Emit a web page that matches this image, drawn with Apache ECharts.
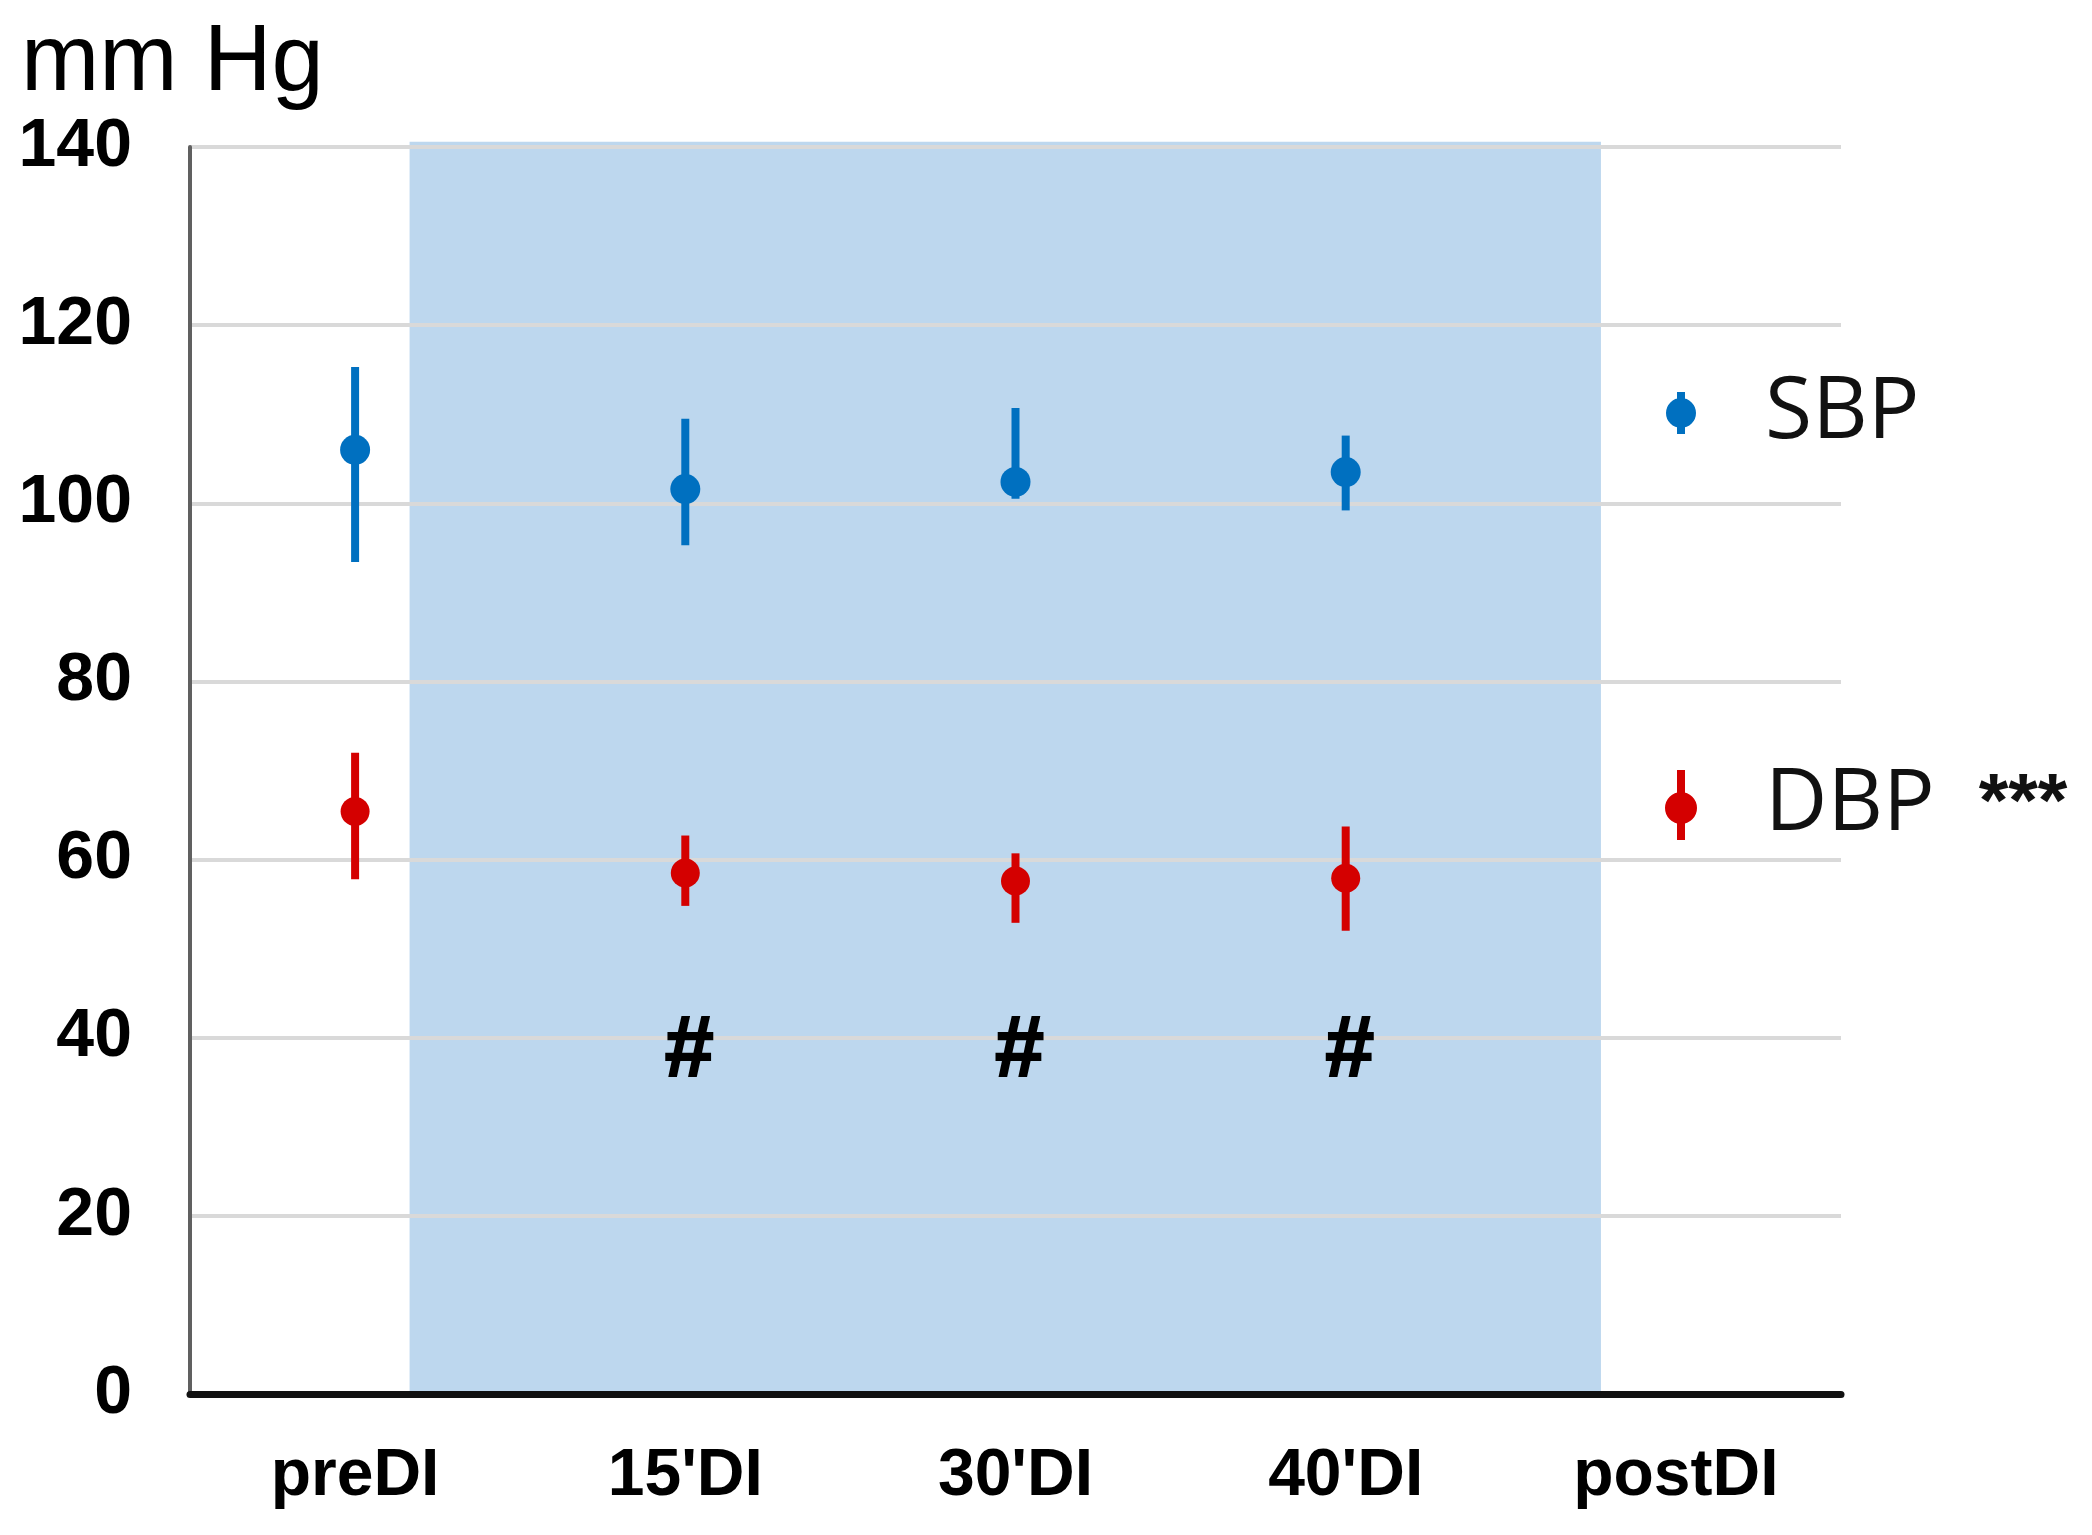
<!DOCTYPE html>
<html>
<head>
<meta charset="utf-8">
<script src="https://cdn.jsdelivr.net/npm/echarts@6/dist/echarts.min.js"></script>
<style>
html,body{margin:0;padding:0;background:#fff;}
#chart{width:2092px;height:1535px;}
</style>
</head>
<body>
<div id="chart"></div>
<script>
const categories = ["preDI", "15'DI", "30'DI", "40'DI", "postDI"];
const sbpMean = [106.0, 101.6, 102.4, 103.5];
const sbpLow  = [93.4, 95.3, 100.5, 99.2];
const sbpHigh = [115.3, 109.5, 110.7, 107.6];
const dbpMean = [65.4, 58.5, 57.6, 57.9];
const dbpLow  = [57.8, 54.8, 52.9, 52.0];
const dbpHigh = [72.0, 62.7, 60.7, 63.7];
const hashCategories = ["15'DI", "30'DI", "40'DI"];
const hashValue = 38.4;
const yMin = 0, yMax = 140, yStep = 20;
const interventionSpan = [0.165, 3.773]; // in category-index units
const interventionTop = 140.6;

const BLUE = '#0070C0';
const RED = '#D40000';

function errData(lo, hi) { return lo.map((v, i) => [i, v, hi[i]]); }
function meanData(m) { return m.map((v, i) => [i, v]); }

function errRender(color) {
  return function (params, api) {
    const a = api.coord([api.value(0), api.value(1)]);
    const b = api.coord([api.value(0), api.value(2)]);
    return { type: 'line', shape: { x1: a[0], y1: a[1], x2: b[0], y2: b[1] },
      style: { stroke: color, lineWidth: 8 } };
  };
}

const iconSBP = 'path://M13,0 L21,0 L21,42 L13,42 Z M2,21 A15,15 0 1,1 32,21 A15,15 0 1,1 2,21 Z';
const iconDBP = 'path://M13,0 L21,0 L21,70 L13,70 Z M1,38 A16,16 0 1,1 33,38 A16,16 0 1,1 1,38 Z';

const chart = echarts.init(document.getElementById('chart'));
chart.setOption({
  animation: false,
  backgroundColor: '#fff',
  title: {
    text: 'mm Hg', left: 16, top: 12,
    textStyle: { fontFamily: 'Liberation Sans', fontSize: 94, fontWeight: 'normal', color: '#000' }
  },
  legend: [
    {
      data: [{ name: 'SBP', icon: iconSBP }],
      left: 1666, top: 370, padding: 0, itemWidth: 34, itemHeight: 42,
      textStyle: { fontFamily: 'Open Sans', fontSize: 86, color: '#111', padding: [0, 0, 0, 62] }
    },
    {
      data: [{ name: 'DBP', icon: iconDBP }],
      left: 1665, top: 762, padding: 0, itemWidth: 34, itemHeight: 70,
      formatter: function (n) { return '{a|' + n + '}{b|***}'; },
      textStyle: {
        fontFamily: 'Open Sans', fontSize: 86, color: '#111', padding: [0, 0, 0, 62],
        rich: {
          a: { fontFamily: 'Open Sans', fontSize: 86, color: '#111' },
          b: { fontFamily: 'Liberation Sans', fontSize: 76, fontWeight: 'bold', color: '#111', padding: [0, 0, 0, 44] }
        }
      }
    }
  ],
  grid: { left: 190, right: 251, top: 147, bottom: 141, containLabel: false },
  xAxis: [
    {
      type: 'category', data: categories, boundaryGap: true,
      axisLine: { lineStyle: { color: '#111', width: 7 } },
      axisTick: { show: false },
      axisLabel: { fontFamily: 'Liberation Sans', fontSize: 66, fontWeight: 'bold', color: '#000', margin: 50 },
      splitLine: { show: false }
    },
    { type: 'value', min: -0.5, max: 4.5, show: false }
  ],
  yAxis: {
    type: 'value', min: yMin, max: yMax, interval: yStep,
    axisLine: { show: true, onZero: false, lineStyle: { color: '#606060', width: 4 } },
    axisTick: { show: false },
    axisLabel: { fontFamily: 'Liberation Sans', fontSize: 68, fontWeight: 'bold', color: '#000', margin: 58 },
    splitLine: { show: true, lineStyle: { color: '#D9D9D9', width: 4 } }
  },
  series: [
    {
      type: 'custom', name: 'intervention', xAxisIndex: 1, z: -1, silent: true, clip: false,
      data: [[interventionSpan[0], interventionSpan[1], interventionTop]],
      renderItem: function (params, api) {
        const p0 = api.coord([api.value(0), api.value(2)]);
        const p1 = api.coord([api.value(1), yMin]);
        return { type: 'rect', shape: { x: p0[0], y: p0[1], width: p1[0] - p0[0], height: p1[1] - p0[1] },
          style: { fill: '#BDD7EE' } };
      }
    },
    {
      type: 'scatter', name: 'SBP', data: meanData(sbpMean), symbol: 'circle', symbolSize: 30, z: 4,
      itemStyle: { color: BLUE, opacity: 1 }
    },
    {
      type: 'scatter', name: 'DBP', data: meanData(dbpMean), symbol: 'circle', symbolSize: 29, z: 4,
      itemStyle: { color: RED, opacity: 1 }
    },
    {
      type: 'custom', name: 'SBP', data: errData(sbpLow, sbpHigh), z: 3, silent: true,
      encode: { x: 0, y: [1, 2] }, renderItem: errRender(BLUE), itemStyle: { color: BLUE }
    },
    {
      type: 'custom', name: 'DBP', data: errData(dbpLow, dbpHigh), z: 3, silent: true,
      encode: { x: 0, y: [1, 2] }, renderItem: errRender(RED), itemStyle: { color: RED }
    },
    {
      type: 'custom', name: 'significance', silent: true, z: 5,
      data: hashCategories.map(c => [c, hashValue]),
      encode: { x: 0, y: 1 },
      renderItem: function (params, api) {
        const p = api.coord([api.value(0), api.value(1)]);
        return { type: 'text', x: p[0] + 4, y: p[1],
          style: { text: '#', fill: '#000', font: 'bold 88px "Liberation Sans"',
            align: 'center', verticalAlign: 'middle', stroke: '#000', lineWidth: 2 } };
      }
    }
  ]
});
</script>
</body>
</html>
